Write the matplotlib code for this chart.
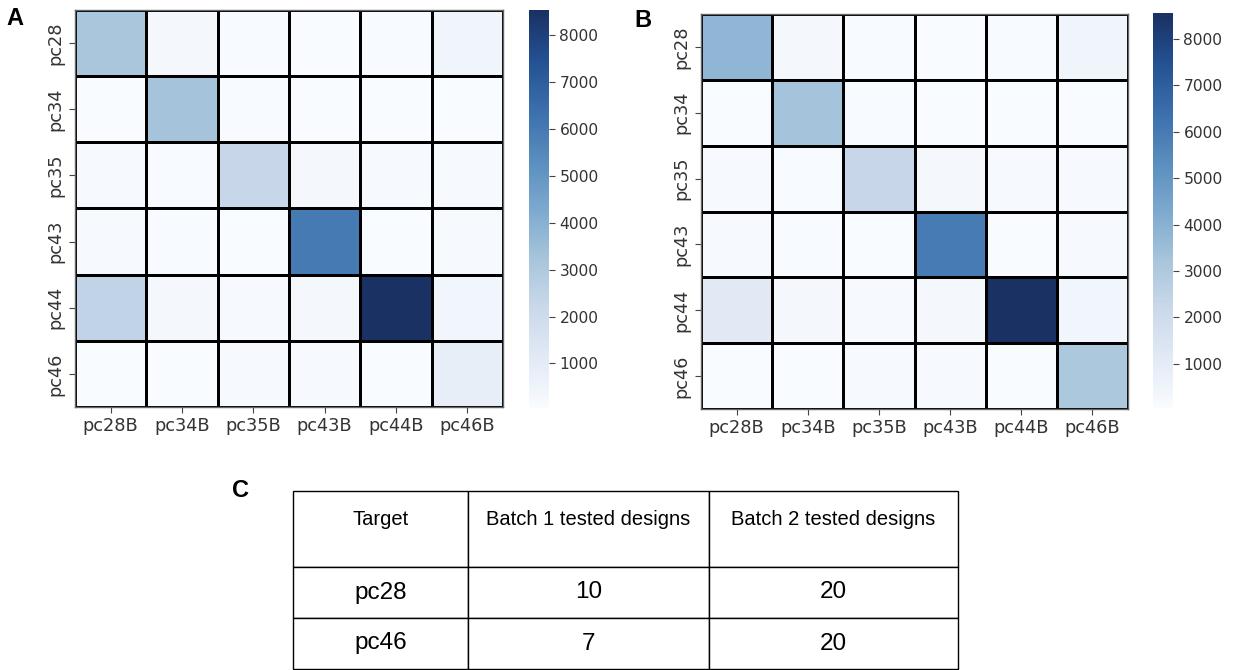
import matplotlib
matplotlib.use('Agg')
import matplotlib.pyplot as plt
import matplotlib.colors as mcolors
import seaborn as sns
import numpy as np

rows = ['pc28', 'pc34', 'pc35', 'pc43', 'pc44', 'pc46']
cols = ['pc28B', 'pc34B', 'pc35B', 'pc43B', 'pc44B', 'pc46B']

# panel A counts
valsA = [[3150, 250, 120, 110, 120, 450],
         [110, 3300, 120, 110, 110, 100],
         [150, 120, 2300, 250, 150, 150],
         [150, 120, 110, 6000, 110, 150],
         [2450, 250, 150, 250, 8540, 400],
         [110, 110, 150, 150, 110, 850]]

# panel B counts
valsB = [[3800, 250, 120, 110, 120, 450],
         [110, 3300, 120, 110, 110, 100],
         [150, 120, 2300, 250, 150, 150],
         [150, 120, 110, 6000, 110, 150],
         [1200, 250, 150, 250, 8560, 400],
         [110, 110, 150, 150, 110, 3100]]
minVal = 50

tableHeader = ['Target', 'Batch 1 tested designs', 'Batch 2 tested designs']
tableRows = [['pc28', '10', '20'],
             ['pc46', '7', '20']]

# Blues, a little duller and slightly more violet, like the scan
t = np.linspace(0, 1, 256)
hsv = mcolors.rgb_to_hsv(plt.get_cmap('Blues')(t)[:, :3])
hsv[:, 0] = (hsv[:, 0] + 5 / 360) % 1
hsv[:, 1] *= 0.8
hsv[:, 2] *= 1 - 0.07 * t
cmap = mcolors.ListedColormap(mcolors.hsv_to_rgb(hsv))

W, H = 1233, 670
fig = plt.figure(figsize=(W / 100, H / 100), dpi=100)

def box(l, t, r, b):
    # pixel box -> figure fraction rect
    return [l / W, 1 - b / H, (r - l) / W, (b - t) / H]

panels = [(valsA, box(75, 10, 503, 407), box(529, 10, 549, 408)),
          (valsB, box(701, 14, 1128, 409), box(1153, 13, 1173, 408))]

for vals, axRect, cbRect in panels:
    data = np.array(vals, dtype=float)
    ax = fig.add_axes(axRect)
    cax = fig.add_axes(cbRect)
    sns.heatmap(data, ax=ax, cbar_ax=cax, cmap=cmap, vmin=minVal, vmax=data.max(),
                linewidths=2, linecolor='black', xticklabels=cols, yticklabels=rows)
    ax.set_yticklabels(rows, rotation=90, va='center', fontsize=12.8, color='#333333')
    ax.set_xticklabels(cols, rotation=0, fontsize=12.8, color='#333333')
    ax.tick_params(length=4, color='#444444')
    for s in ax.spines.values():
        s.set_visible(True)
        s.set_color('#666666')
        s.set_linewidth(1)
    cax.set_yticks([1000, 2000, 3000, 4000, 5000, 6000, 7000, 8000])
    cax.tick_params(labelsize=11.2, labelcolor='#333333', length=4, color='#444444')
    cbar = ax.collections[0].colorbar
    cbar.outline.set_visible(False)

# table C
tax = fig.add_axes(box(293, 491, 958, 669))
tax.axis('off')
tbl = tax.table(cellText=[tableHeader] + tableRows, cellLoc='center',
                bbox=[0, 0, 1, 1], colWidths=[175, 241, 249])
tbl.auto_set_font_size(False)
rowH = [76, 51, 51]
for (r, c), cell in tbl.get_celld().items():
    cell.set_height(rowH[r])
    cell.set_linewidth(1.0)
    txt = cell.get_text()
    txt.set_fontfamily('Liberation Sans')
    if r == 0:
        txt.set_fontsize(14.5)
        txt.set_va('bottom')
    else:
        txt.set_fontsize(17.5)

# panel letters
for lab, x, y in [('A', 6, 25), ('B', 634, 27), ('C', 232, 497)]:
    fig.text(x / W, 1 - y / H, lab, fontsize=17, fontweight='bold',
             fontfamily='Liberation Sans', va='baseline')

fig.savefig('out.png', dpi=100)
